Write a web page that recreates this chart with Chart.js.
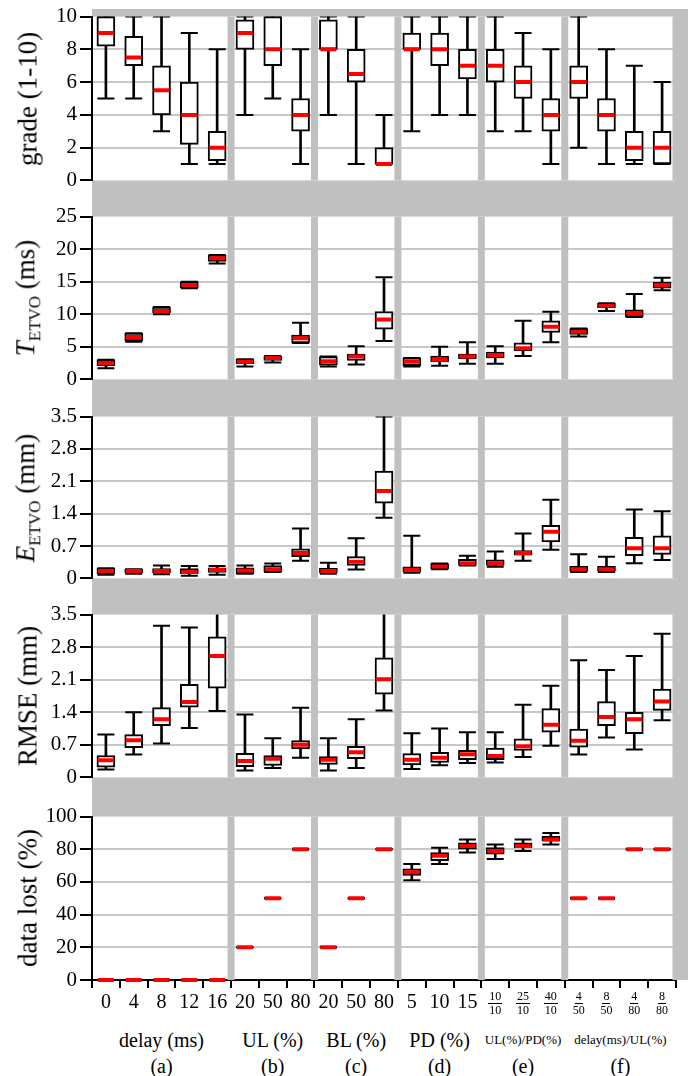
<!DOCTYPE html>
<html>
<head>
<meta charset="utf-8">
<script src="https://cdn.jsdelivr.net/npm/chart.js@4.4.1/dist/chart.umd.min.js"></script>
<style>
body { margin: 0; background: #fff; font-family: 'Liberation Serif', 'DejaVu Serif', serif; color: #000; }
#fig { position: relative; width: 688px; height: 1076px; overflow: hidden; }
#bg { position: absolute; left: 92px; top: 9px; width: 596px; height: 971px; background: #c0c0c0; }
canvas { position: absolute; left: 0; }
.yt { position: absolute; left: 28px; transform: translate(-50%, -50%) rotate(-90deg); white-space: nowrap; font-size: 27px; }
.yt sub { font-size: 17px; font-style: normal; }
.lbl { position: absolute; transform: translate(-50%, -50%); white-space: nowrap; }
.frac { display: inline-flex; flex-direction: column; align-items: center; font-size: 12px; line-height: 12px; }
.frac span:first-child { border-bottom: 1px solid #000; padding: 0 1px 1px; }
</style>
</head>
<body>
<div id="fig"><div id="bg"></div></div>
<script>
// x categories (21 boxes in 6 groups)
const tickLabels = ['0', '4', '8', '12', '16', '20', '50', '80', '20', '50', '80', '5', '10', '15',
  '10/10', '25/10', '40/10', '4/50', '8/50', '4/80', '8/80'];
const groupNames = ['delay (ms)', 'UL (%)', 'BL (%)', 'PD (%)', 'UL(%)/PD(%)', 'delay(ms)/UL(%)'];
const groupTags = ['(a)', '(b)', '(c)', '(d)', '(e)', '(f)'];
const groupFirst = [0, 5, 8, 11, 14, 17];
const groupLast = [4, 7, 10, 13, 16, 20];
const groupBreaks = [4.5, 7.5, 10.5, 13.5, 16.5, 20.5];

// grade (1-10)
const gradeMin = [5, 5, 3, 1, 1, 4, 5, 1, 4, 1, 1, 3, 4, 4, 3, 3, 1, 2, 1, 1, 1];
const gradeQ1  = [8.2, 7, 4, 2.2, 1.2, 8, 7, 3, 8, 6, 1, 8, 7, 6.2, 6, 5, 3, 5, 3, 1.2, 1];
const gradeMed = [9, 7.5, 5.5, 4, 2, 9, 8, 4, 8, 6.5, 1, 8, 8, 7, 7, 6, 4, 6, 4, 2, 2];
const gradeQ3  = [10, 8.8, 7, 6, 3, 9.8, 10, 5, 9.8, 8, 2, 9, 9, 8, 8, 7, 5, 7, 5, 3, 3];
const gradeMax = [10, 10, 10, 9, 8, 10, 10, 8, 10, 10, 4, 10, 10, 10, 10, 9, 8, 10, 8, 7, 6];

// T_ETVO (ms)
const tMin = [1.7, 5.8, 10.0, 14.0, 17.8, 2.0, 2.6, 5.6, 2.0, 2.3, 5.9, 2.0, 2.1, 2.4, 2.4, 3.6, 5.7, 6.6, 10.5, 9.6, 13.7];
const tQ1  = [2.1, 5.9, 10.2, 14.1, 18.1, 2.4, 2.9, 5.6, 2.2, 2.9, 7.7, 2.1, 2.7, 3.2, 3.3, 4.4, 7.2, 6.9, 11.0, 9.6, 14.0];
const tMed = [2.5, 6.5, 10.5, 14.5, 18.6, 2.7, 3.3, 6.3, 2.8, 3.5, 9.2, 2.7, 3.0, 3.5, 3.7, 4.8, 8.1, 7.3, 11.3, 10.2, 14.5];
const tQ3  = [3.0, 7.1, 11.1, 15.0, 19.1, 3.1, 3.6, 6.8, 3.5, 3.9, 10.4, 3.3, 3.6, 3.9, 4.2, 5.6, 9.0, 7.8, 11.7, 10.7, 14.9];
const tMax = [3.0, 7.1, 11.1, 15.0, 19.1, 3.1, 3.6, 8.7, 3.5, 5.1, 15.7, 3.3, 5.0, 5.7, 5.1, 9.0, 10.4, 7.8, 11.7, 13.1, 15.6];

// E_ETVO (mm)
const eMin = [0.08, 0.10, 0.09, 0.06, 0.08, 0.10, 0.14, 0.38, 0.10, 0.19, 1.31, 0.12, 0.20, 0.28, 0.25, 0.38, 0.62, 0.14, 0.14, 0.33, 0.40];
const eQ1  = [0.10, 0.12, 0.12, 0.10, 0.13, 0.10, 0.14, 0.47, 0.12, 0.28, 1.63, 0.14, 0.20, 0.28, 0.28, 0.50, 0.79, 0.15, 0.15, 0.49, 0.52];
const eMed = [0.16, 0.16, 0.16, 0.14, 0.18, 0.17, 0.20, 0.55, 0.16, 0.36, 1.89, 0.18, 0.26, 0.33, 0.33, 0.55, 1.01, 0.20, 0.20, 0.65, 0.65];
const eQ3  = [0.22, 0.20, 0.21, 0.21, 0.23, 0.23, 0.28, 0.64, 0.22, 0.47, 2.32, 0.25, 0.32, 0.41, 0.40, 0.60, 1.15, 0.26, 0.26, 0.89, 0.92];
const eMax = [0.22, 0.20, 0.28, 0.27, 0.27, 0.28, 0.32, 1.08, 0.34, 0.87, 3.5, 0.92, 0.32, 0.49, 0.58, 0.97, 1.70, 0.52, 0.47, 1.49, 1.45];

// RMSE (mm)
const rMin = [0.17, 0.49, 0.73, 1.06, 1.43, 0.15, 0.20, 0.42, 0.15, 0.20, 1.44, 0.18, 0.26, 0.31, 0.32, 0.44, 0.68, 0.49, 0.86, 0.60, 1.23];
const rQ1  = [0.22, 0.64, 1.11, 1.51, 1.92, 0.23, 0.26, 0.61, 0.28, 0.40, 1.79, 0.27, 0.32, 0.38, 0.38, 0.58, 0.97, 0.65, 1.11, 0.94, 1.44];
const rMed = [0.37, 0.80, 1.25, 1.62, 2.61, 0.35, 0.40, 0.70, 0.38, 0.54, 2.11, 0.38, 0.42, 0.50, 0.46, 0.67, 1.13, 0.79, 1.30, 1.25, 1.63];
const rQ3  = [0.47, 0.92, 1.50, 2.00, 3.02, 0.52, 0.47, 0.79, 0.45, 0.67, 2.57, 0.51, 0.54, 0.58, 0.63, 0.83, 1.48, 1.04, 1.63, 1.40, 1.90];
const rMax = [0.92, 1.40, 3.26, 3.22, 3.9, 1.35, 0.84, 1.50, 0.84, 1.25, 3.9, 0.95, 1.05, 0.97, 0.97, 1.56, 1.97, 2.52, 2.31, 2.61, 3.09];

// data lost (%)
const lMin = [0, 0, 0, 0, 0, 20, 50, 80, 20, 50, 80, 61, 71, 78, 74, 79, 83, 50, 50, 80, 80];
const lQ1  = [0, 0, 0, 0, 0, 20, 50, 80, 20, 50, 80, 64, 73, 80, 77, 81, 85, 50, 50, 80, 80];
const lMed = [0, 0, 0, 0, 0, 20, 50, 80, 20, 50, 80, 66, 76, 82, 79, 82, 86, 50, 50, 80, 80];
const lQ3  = [0, 0, 0, 0, 0, 20, 50, 80, 20, 50, 80, 68, 78, 84, 81, 84, 88, 50, 50, 80, 80];
const lMax = [0, 0, 0, 0, 0, 20, 50, 80, 20, 50, 80, 71, 81, 86, 83, 86, 90, 50, 50, 80, 80];

// y ticks
const gradeTicks = [0, 2, 4, 6, 8, 10];
const tTicks = [0, 5, 10, 15, 20, 25];
const mmTicks = [0, 0.7, 1.4, 2.1, 2.8, 3.5];
const mmTickText = ['0', '0.7', '1.4', '2.1', '2.8', '3.5'];
const lostTicks = [0, 20, 40, 60, 80, 100];

const rows = [
  { title: 'grade (1-10)', ticks: gradeTicks, text: gradeTicks.map(String), lo: gradeMin, q1: gradeQ1, med: gradeMed, q3: gradeQ3, hi: gradeMax },
  { title: '<i>T</i><sub>ETVO</sub> (ms)', ticks: tTicks, text: tTicks.map(String), lo: tMin, q1: tQ1, med: tMed, q3: tQ3, hi: tMax },
  { title: '<i>E</i><sub>ETVO</sub> (mm)', ticks: mmTicks, text: mmTickText, lo: eMin, q1: eQ1, med: eMed, q3: eQ3, hi: eMax },
  { title: 'RMSE (mm)', ticks: mmTicks, text: mmTickText, lo: rMin, q1: rQ1, med: rMed, q3: rQ3, hi: rMax },
  { title: 'data lost (%)', ticks: lostTicks, text: lostTicks.map(String), lo: lMin, q1: lQ1, med: lMed, q3: lQ3, hi: lMax }
];

// plot area placement on the page
const areaTop = [15, 215, 415, 613, 815];
const areaBottom = [182, 381, 580, 779, 980];
const PAD = 14;

// white plot area, then gray group separators on top of the grid
const panelPlugin = {
  id: 'panels',
  beforeDraw(chart) {
    const { ctx, chartArea: a } = chart;
    ctx.save();
    ctx.fillStyle = '#fff';
    ctx.fillRect(a.left, a.top, a.right - a.left, a.bottom - a.top);
    ctx.restore();
  },
  beforeDatasetsDraw(chart) {
    const { ctx, chartArea: a, scales: { x } } = chart;
    ctx.save();
    ctx.fillStyle = '#c0c0c0';
    groupBreaks.forEach(b => {
      const px = x.getPixelForValue(b);
      ctx.fillRect(px - 3.5, a.top, 7, a.bottom - a.top);
    });
    ctx.restore();
  }
};

const fig = document.getElementById('fig');
let bottomChart, bottomTop;

rows.forEach((row, r) => {
  const last = r === rows.length - 1;
  const canvas = document.createElement('canvas');
  const top = areaTop[r] - PAD;
  const h = areaBottom[r] - areaTop[r] + PAD + (last ? 8 + 8 : PAD);
  canvas.width = 688; canvas.height = h;
  canvas.style.width = '688px'; canvas.style.height = h + 'px';
  canvas.style.top = top + 'px';
  fig.appendChild(canvas);

  const t = document.createElement('div');
  t.className = 'yt';
  t.style.top = ((areaTop[r] + areaBottom[r]) / 2) + 'px';
  t.innerHTML = row.title;
  fig.appendChild(t);

  const idx = row.med.map((_, i) => i);
  const chart = new Chart(canvas, {
    type: 'bar',
    data: {
      datasets: [
        { type: 'scatter', order: 0, data: idx.map(i => ({ x: i, y: row.med[i] })),
          pointStyle: 'line', pointRadius: 8, borderColor: '#ff0000', borderWidth: 4, clip: 4 },
        { type: 'bar', order: 1, grouped: false, data: idx.map(i => ({ x: i, y: [row.q1[i], row.q3[i]] })),
          backgroundColor: '#fff', borderColor: '#000', borderWidth: 2, borderSkipped: false, barThickness: 18 },
        { type: 'scatter', order: 2, data: idx.flatMap(i => [{ x: i, y: row.lo[i] }, { x: i, y: row.hi[i] }]),
          pointStyle: 'line', pointRadius: 8.5, borderColor: '#000', borderWidth: 2 },
        { type: 'bar', order: 3, grouped: false, data: idx.map(i => ({ x: i, y: [row.lo[i], row.hi[i]] })),
          backgroundColor: '#000', borderWidth: 0, barThickness: 2 }
      ]
    },
    options: {
      responsive: false,
      animation: false,
      events: [],
      layout: { padding: { top: PAD, bottom: last ? 8 : PAD, left: 0, right: 4 } },
      plugins: { legend: { display: false }, tooltip: { enabled: false } },
      scales: {
        x: {
          type: 'linear', min: -0.5, max: 20.5, offset: false,
          display: last,
          afterBuildTicks: s => { s.ticks = tickLabels.map((_, i) => ({ value: i })); },
          ticks: { display: false },
          grid: { color: 'rgba(0,0,0,0)', tickColor: '#000', tickLength: 8, lineWidth: 2 },
          border: { color: '#000', width: 2 }
        },
        y: {
          min: 0, max: row.ticks[row.ticks.length - 1],
          afterBuildTicks: s => { s.ticks = row.ticks.map(v => ({ value: v })); },
          afterFit: s => { s.width = 92; },
          ticks: { color: '#000', padding: 3, font: { family: "'Liberation Serif', 'DejaVu Serif', serif", size: 21 },
            callback: (v, i) => row.text[i] },
          grid: {
            color: c => (c.index === 0 || c.index === row.ticks.length - 1) ? 'rgba(0,0,0,0)' : '#c8c8c8',
            lineWidth: 2, tickColor: '#000', tickLength: 12, tickWidth: 2
          },
          border: { color: '#000', width: 2 }
        }
      }
    },
    plugins: [panelPlugin]
  });
  if (last) { bottomChart = chart; bottomTop = top; }
});

// bottom labels placed from the x scale
const xs = bottomChart.scales.x;
const baseY = bottomTop + bottomChart.chartArea.bottom;
tickLabels.forEach((lab, i) => {
  const d = document.createElement('div');
  d.className = 'lbl';
  d.style.left = xs.getPixelForValue(i) + 'px';
  d.style.top = (baseY + 21) + 'px';
  if (lab.includes('/')) {
    const [a, b] = lab.split('/');
    d.innerHTML = '<span class="frac"><span>' + a + '</span><span>' + b + '</span></span>';
  } else {
    d.style.fontSize = '20px';
    d.textContent = lab;
  }
  fig.appendChild(d);
});
groupNames.forEach((name, g) => {
  const cx = (xs.getPixelForValue(groupFirst[g]) + xs.getPixelForValue(groupLast[g])) / 2;
  const d = document.createElement('div');
  d.className = 'lbl';
  d.style.left = cx + 'px';
  d.style.top = (baseY + 60) + 'px';
  d.style.fontSize = name.includes('/') ? '13px' : '20px';
  d.textContent = name;
  fig.appendChild(d);
  const tg = document.createElement('div');
  tg.className = 'lbl';
  tg.style.left = cx + 'px';
  tg.style.top = (baseY + 86) + 'px';
  tg.style.fontSize = '20px';
  tg.textContent = groupTags[g];
  fig.appendChild(tg);
});
</script>
</body>
</html>
